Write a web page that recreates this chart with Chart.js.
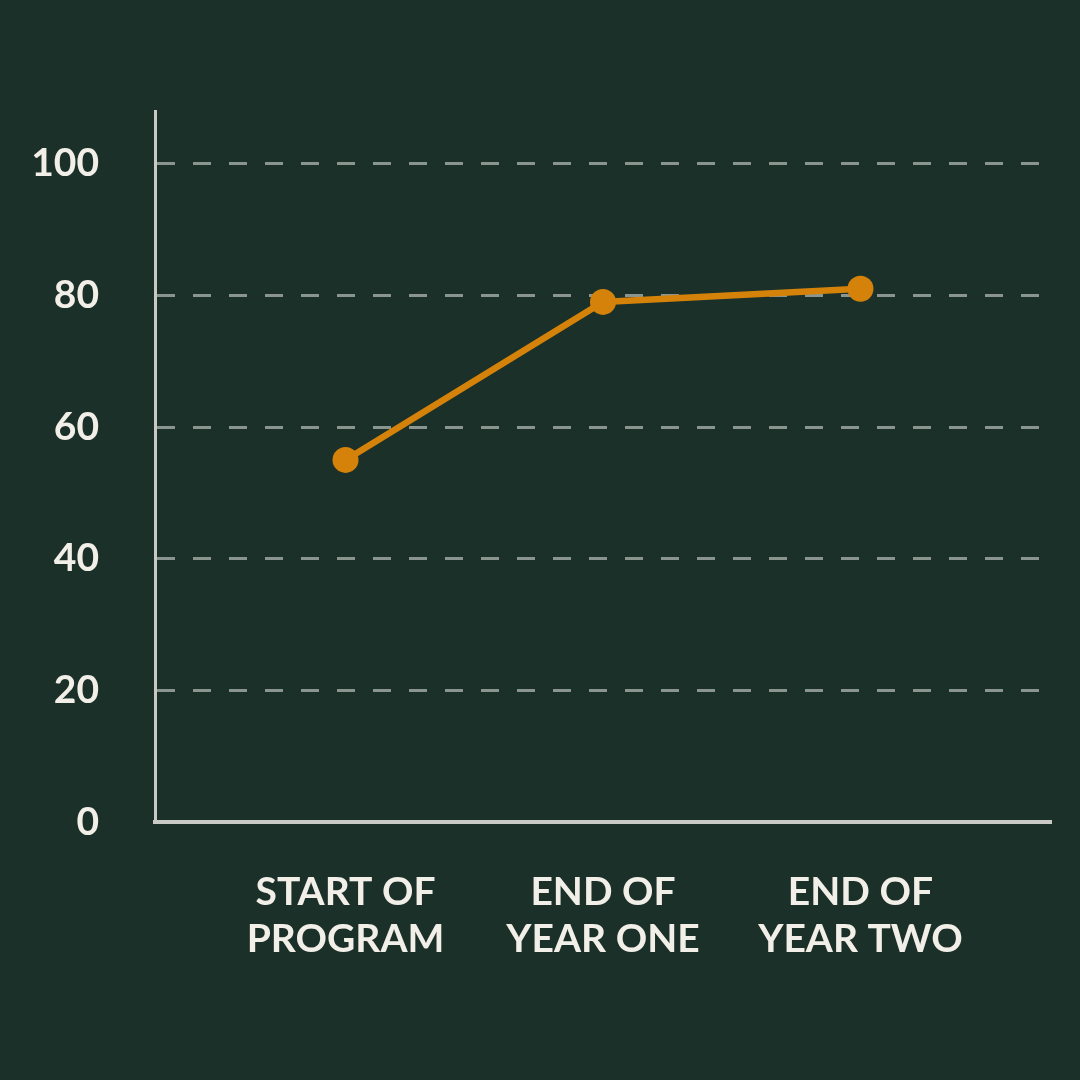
<!DOCTYPE html>
<html lang="en">
<head>
  <meta charset="UTF-8">
  <title>Progress over the program</title>
  <style>
    html, body { margin: 0; padding: 0; background: #1b3029; }
    .chart-container { width: 1080px; height: 1080px; }
  </style>
</head>
<body>
  <div class="chart-container">
    <canvas id="progressChart"></canvas>
  </div>

  <script src="https://cdn.jsdelivr.net/npm/chart.js"></script>
  <script>
    const categories = [['START OF', 'PROGRAM'], ['END OF', 'YEAR ONE'], ['END OF', 'YEAR TWO']];
    const scores = [55, 79, 81];
    const yTicks = [0, 20, 40, 60, 80, 100];

    const orange = '#d4820a';
    const textColor = '#f2efe8';
    const font = { family: 'Lato', size: 39, weight: 'bold', lineHeight: 1.2 };

    const ctx = document.getElementById('progressChart').getContext('2d');

    const chart = new Chart(ctx, {
      type: 'line',
      data: {
        datasets: [{
          data: scores.map((v, i) => ({ x: i + 1, y: v })),
          borderColor: orange,
          backgroundColor: orange,
          borderWidth: 6.5,
          pointRadius: 13,
          pointBorderWidth: 0,
          pointBackgroundColor: orange,
          fill: false,
          tension: 0
        }]
      },
      options: {
        responsive: true,
        maintainAspectRatio: false,
        animation: false,
        layout: { padding: { top: 111, right: 29, left: 0, bottom: 0 } },
        plugins: {
          legend: { display: false },
          tooltip: { enabled: false }
        },
        scales: {
          x: {
            type: 'linear',
            min: 0.26,
            max: 3.74,
            afterBuildTicks: (scale) => {
              scale.ticks = categories.map((c, i) => ({ value: i + 1 }));
            },
            afterFit: (scale) => { scale.height = 258; },
            grid: { display: false, drawTicks: false },
            border: { display: true, color: '#c9cac6', width: 4 },
            ticks: {
              color: textColor,
              font: font,
              padding: 47,
              maxRotation: 0,
              autoSkip: false,
              callback: (value) => categories[value - 1] || ''
            }
          },
          y: {
            min: 0,
            max: 108,
            afterBuildTicks: (scale) => {
              scale.ticks = yTicks.map(v => ({ value: v }));
            },
            afterFit: (scale) => { scale.width = 155; },
            grid: {
              color: '#8a9590',
              lineWidth: 3,
              drawTicks: false
            },
            border: { display: true, color: '#c9cac6', width: 3, dash: [18, 18] },
            ticks: {
              color: textColor,
              font: font,
              padding: 56
            }
          }
        }
      }
    });
  </script>
</body>
</html>
